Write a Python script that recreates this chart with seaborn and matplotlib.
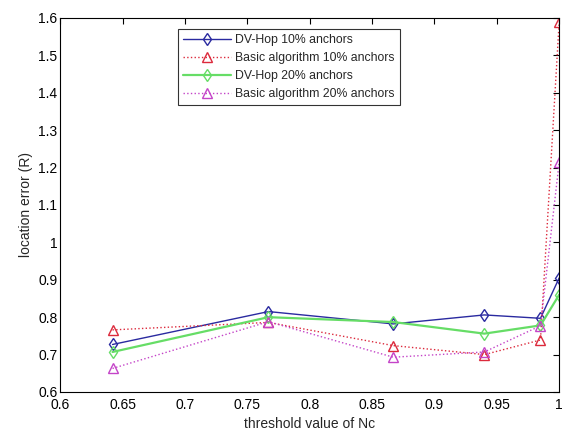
import numpy as np
import pandas as pd
import matplotlib
matplotlib.use("Agg")
import matplotlib.pyplot as plt
import seaborn as sns

# threshold values of Nc (x axis)
nc = [0.642, 0.767, 0.867, 0.940, 0.985, 1.0]

# location error (R) for each method
dvhop_10 = [0.727, 0.815, 0.782, 0.806, 0.797, 0.905]
basic_10 = [0.766, 0.786, 0.724, 0.700, 0.739, 1.590]
dvhop_20 = [0.707, 0.800, 0.787, 0.756, 0.778, 0.860]
basic_20 = [0.663, 0.788, 0.693, 0.707, 0.777, 1.215]

labels = ["DV-Hop 10% anchors", "Basic algorithm 10% anchors",
          "DV-Hop 20% anchors", "Basic algorithm 20% anchors"]

xticks = [0.6, 0.65, 0.7, 0.75, 0.8, 0.85, 0.9, 0.95, 1.0]
xticklabels = ["0.6", "0.65", "0.7", "0.75", "0.8", "0.85", "0.9", "0.95", "1"]
yticks = [0.6, 0.7, 0.8, 0.9, 1.0, 1.1, 1.2, 1.3, 1.4, 1.5, 1.6]
yticklabels = ["0.6", "0.7", "0.8", "0.9", "1", "1.1", "1.2", "1.3", "1.4", "1.5", "1.6"]

sns.set_theme(style="white")
plt.rcParams["font.family"] = ["Liberation Sans", "DejaVu Sans"]
plt.rcParams["font.size"] = 10

fig = plt.figure(figsize=(5.62, 4.32), dpi=100)
ax = fig.add_axes([0.107, 0.0926, 0.888, 0.866])

styles = [
    (dvhop_10, "#2a2aa0", "-", "d", 1.0),
    (basic_10, "#dc2a3c", ":", "^", 1.0),
    (dvhop_20, "#66dd66", "-", "d", 1.6),
    (basic_20, "#c444c8", ":", "^", 1.0),
]
for (vals, col, ls, mk, lw), lab in zip(styles, labels):
    sns.lineplot(x=nc, y=vals, ax=ax, color=col, linestyle=ls, linewidth=lw,
                 marker=mk, markersize=6 if mk == "d" else 7,
                 markerfacecolor="none", markeredgecolor=col,
                 markeredgewidth=1.0, label=lab, sort=False)

ax.set_xlim(0.6, 1.0)
ax.set_ylim(0.6, 1.6)
ax.set_xticks(xticks)
ax.set_xticklabels(xticklabels)
ax.set_yticks(yticks)
ax.set_yticklabels(yticklabels)
ax.tick_params(axis="x", pad=4)
ax.tick_params(direction="in", top=True, right=True, length=4, width=0.8,
               labelsize=10, colors="black")
ax.tick_params(axis="y", pad=2)
for sp in ax.spines.values():
    sp.set_color("black")
    sp.set_linewidth(0.8)

ax.set_xlabel("threshold value of Nc", fontsize=10, labelpad=4)
ax.set_ylabel("location error (R)", fontsize=10, labelpad=4)

leg = ax.legend(loc="upper left", bbox_to_anchor=(178 / 562, 1 - 29 / 432),
                bbox_transform=fig.transFigure, fancybox=False, frameon=True,
                edgecolor="black", fontsize=8.8, handlelength=3.9,
                labelspacing=0.5, borderpad=0.4, handletextpad=0.4,
                borderaxespad=0)
leg.get_frame().set_linewidth(0.8)

fig.savefig("out.png", dpi=100)
